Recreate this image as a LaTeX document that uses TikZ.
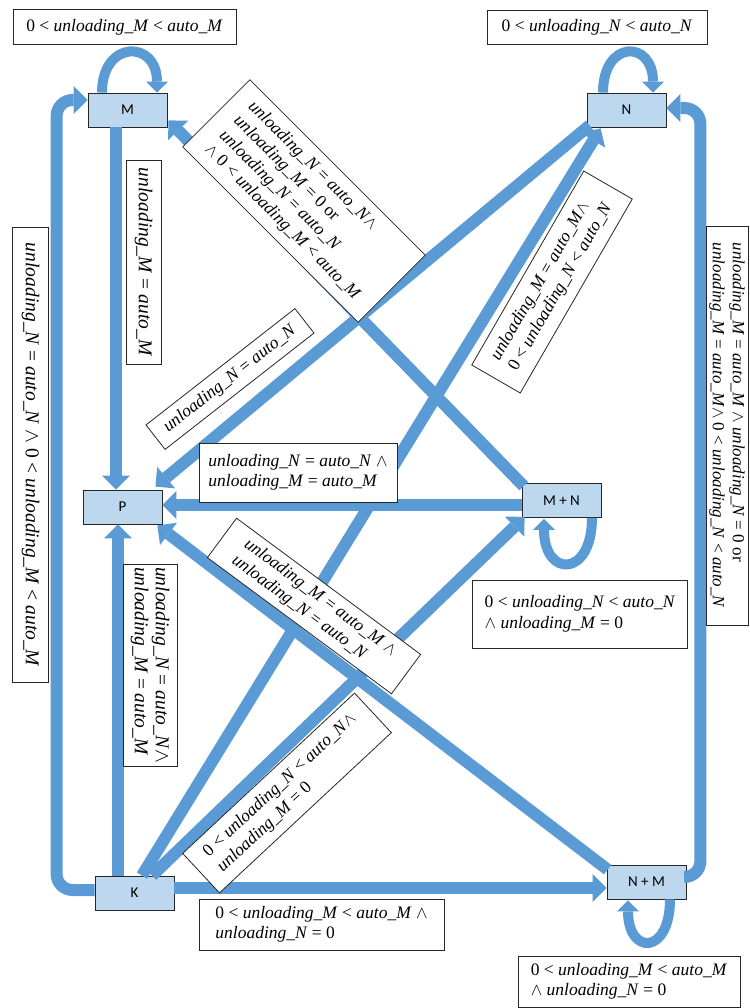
\documentclass[tikz,border=0pt]{standalone}
\usepackage{fontspec}
\setmainfont{Liberation Serif}
\newfontfamily\sansbox{Carlito}
\usetikzlibrary{arrows.meta,calc}
\definecolor{ablue}{HTML}{5B9BD5}
\definecolor{bfill}{HTML}{BDD7EE}
\newcommand{\uM}{\textit{unloading\_M}}
\newcommand{\uN}{\textit{unloading\_N}}
\newcommand{\aM}{\textit{auto\_M}}
\newcommand{\aN}{\textit{auto\_N}}
\newcommand{\wg}{$\wedge$}
\tikzset{
 st/.style={draw=black!85, line width=0.8pt, fill=bfill, minimum width=79pt, minimum height=34pt, inner sep=0pt, font=\sansbox\fontsize{15}{17}\selectfont},
 lbl/.style={draw=black!85, line width=0.8pt, fill=white, inner sep=0pt, align=left, font=\fontsize{17.5}{20.5}\selectfont},
 vlbl/.style={lbl, rotate=-90, font=\fontsize{19.5}{21}\selectfont},
 blk/.style={draw=ablue, line width=12pt, -{Triangle[length=14pt,width=28pt,line width=0pt]}},
 lp/.style={draw=ablue, line width=10pt, -{Triangle[length=11pt,width=22pt,line width=0pt]}},
}
\begin{document}
\begin{tikzpicture}[x=1pt,y=-1pt]
\useasboundingbox (0,0) rectangle (749,1008);
\node[st] (M) at (127.5,110) {M};
\node[st] (N) at (626.5,110) {N};
\node[st] (P) at (122.5,507) {P};
\node[st] (MN) at (561.5,500.5) {M + N};
\node[st] (K) at (134.5,893) {K};
\node[st] (NM) at (646.5,882) {N + M};
% self loops
\draw[lp] ($(M.north)+(-25.5,0)$) .. controls ($(M.north)+(-25.5,-53)$) and ($(M.north)+(29.5,-53)$) .. ($(M.north)+(29.5,0)$);
\draw[lp] ($(N.north)+(-23.5,0)$) .. controls ($(N.north)+(-23.5,-53)$) and ($(N.north)+(26.5,-53)$) .. ($(N.north)+(26.5,0)$);
\draw[lp] ($(MN.south)+(30.5,0)$) .. controls ($(MN.south)+(30.5,60)$) and ($(MN.south)+(-17.5,60)$) .. ($(MN.south)+(-17.5,1)$);
\draw[lp] ($(NM.south)+(23.5,0)$) .. controls ($(NM.south)+(23.5,56)$) and ($(NM.south)+(-18.5,56)$) .. ($(NM.south)+(-18.5,1)$);
% outer loops
\draw[blk, rounded corners=16pt] ($(K.west)+(0,-3)$) -- ++(-38,0) |- ($(M.west)+(0,-10)$);
\draw[blk, rounded corners=16pt] ($(NM.east)+(0,-5)$) -- ++(14,0) |- ($(N.east)+(0,-2)$);
% straight connectors
\draw[blk] ($(M.south)+(-11.5,0)$) -- ($(P.north)+(-6.5,0)$);
\draw[blk] ($(K.north)+(-16.5,0)$) -- ($(P.south)+(-4.5,0)$);
\draw[blk] ($(MN.west)+(0,4.5)$) -- ($(P.east)+(0,-2)$);
\draw[blk] ($(MN.north west)+(2,3)$) -- ($(M.south east)+(1,-7)$);
\draw[blk] ($(N.south west)+(3,-2)$) -- ($(P.north east)+(-7,-3)$);
\draw[blk] ($(K.north)+(7.5,0)$) -- ($(N.south west)+(14,1)$);
\draw[blk] ($(K.north)+(17.5,0)$) -- ($(MN.south west)+(3,-1)$);
\draw[blk] ($(NM.north west)+(1,5)$) -- ($(P.south east)+(-5,1)$);
\draw[blk] ($(K.east)+(0,-5)$) -- ($(NM.west)+(0,6)$);
% labels
\node[lbl, minimum width=223pt, minimum height=35pt] (lm) at (124.5,27) {0 < \uM{} < \aM};
\node[lbl, minimum width=220pt, minimum height=34pt] (ln) at (597,27) {0 < \uN{} < \aN};
\node[lbl, minimum width=215pt, minimum height=68pt] (lmn) at (580,614) {0 < \uN{} < \aN\\ \wg{} \uM{} = 0};
\node[lbl, minimum width=222pt, minimum height=51pt] (lnm) at (629,981.5) {0 < \uM{} < \aM\\ \wg{} \uN{} = 0};
\node[lbl, minimum width=245pt, minimum height=51pt] (lknm) at (321.5,924.5) {0 < \uM{} < \aM{} \wg\\ \uN{} = 0};
\node[lbl, minimum width=198pt, minimum height=59pt] (lmnp) at (298,472.5) {\uN{} = \aN{} \wg\\ \uM{} = \aM};
\node[vlbl, minimum width=455pt, minimum height=36pt] (lleft) at (30.5,455) {\uN{} = \aN{} \wg{} 0 < \uM{} < \aM};
\node[vlbl, minimum width=204pt, minimum height=35pt] (lmp) at (143.5,262) {\uM{} = \aM};
\node[vlbl, minimum width=202pt, minimum height=54pt] (lkp) at (150,665) {\uN{} = \aN\wg\\ \uM{} = \aM};
\node[vlbl, font=\fontsize{17}{20}\selectfont, minimum width=399pt, minimum height=42pt] (lright) at (727,425.5) {\uM{} = \aM{} \wg{} \uN{} = 0 or\\ \uM{} = \aM\wg{} 0 < \uN{} < \aN};
\node[lbl, rotate=-45, minimum width=248pt, minimum height=95pt] (lmnm) at (304,201) {\uN{} = \aN\wg\\ \uM{} = 0 or\\ \uN{} = \aN\\ \wg{} 0 < \uM{} < \aM};
\node[lbl, rotate=38, minimum width=189pt, minimum height=31pt] (lnp) at (230,379) {\uN{} = \aN};
\node[lbl, rotate=60, minimum width=224pt, minimum height=56pt] (lkn) at (552,282) {\uM{} = \aM\wg\\ 0 < \uN{} < \aN};
\node[lbl, rotate=43, minimum width=235pt, minimum height=54pt] (lkmn) at (287,793) {0 < \uN{} < \aN\wg\\ \uM{} = 0};
\node[lbl, rotate=-36.5, minimum width=229pt, minimum height=49pt] (lnmp) at (314,606) {\uM{} = \aM{} \wg\\ \uN{} = \aN};
\end{tikzpicture}
\end{document}
